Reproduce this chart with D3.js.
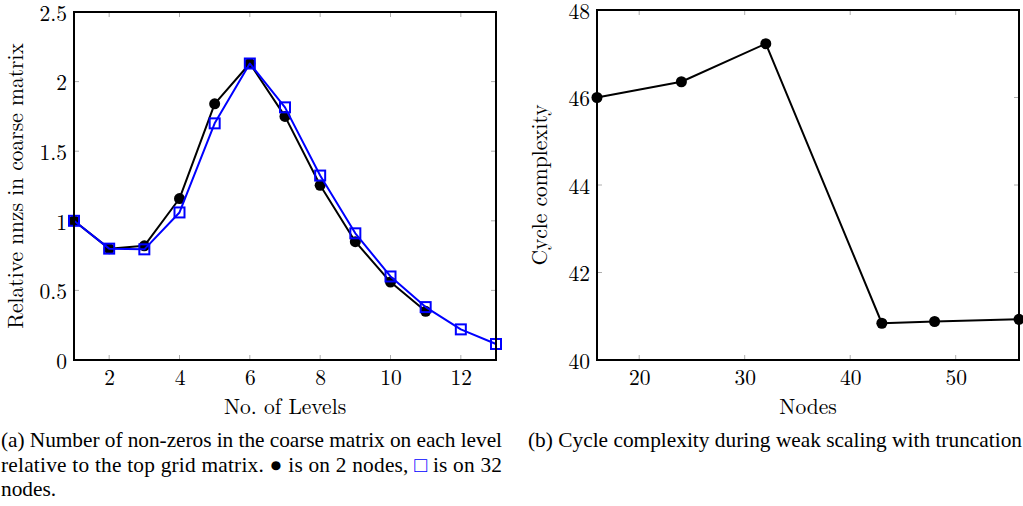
<!DOCTYPE html>
<html><head><meta charset="utf-8">
<script src="https://cdn.jsdelivr.net/npm/d3@7"></script>
<style>body{margin:0;background:#fff}svg{display:block}</style>
</head><body><svg id="c" width="1023" height="506"></svg>
<script>
const levels2 = [1,2,3,4,5,6,7,8,9,10,11];
const nnz2 = [1.0,0.80,0.82,1.16,1.84,2.13,1.75,1.255,0.85,0.56,0.35];
const levels32 = [1,2,3,4,5,6,7,8,9,10,11,12,13];
const nnz32 = [1.0,0.80,0.795,1.06,1.70,2.13,1.815,1.325,0.91,0.60,0.38,0.22,0.115];
const levelTicks = [2,4,6,8,10,12];
const nnzTicks = [0,0.5,1,1.5,2,2.5];
const nodes = [16,24,32,43,48,56];
const complexity = [46.0,46.36,47.23,40.84,40.88,40.93];
const nodeTicks = [20,30,40,50];
const complexityTicks = [40,42,44,46,48];

const LM = '"Latin Modern Roman", "Liberation Serif", serif';
const TM = '"Liberation Serif", "Times New Roman", serif';
const FS = "21.5px";
const svg = d3.select("#c");
const fmt = d => String(d);

function panel(o){
  const g = svg.append("g");
  const x = d3.scaleLinear().domain(o.xd).range([o.x0,o.x1]);
  const y = d3.scaleLinear().domain(o.yd).range([o.y1,o.y0]);
  const tl = 5;
  const tg = g.append("g").attr("stroke","#999").attr("stroke-width",0.8);
  o.xt.forEach(t=>{
    tg.append("line").attr("x1",x(t)).attr("x2",x(t)).attr("y1",o.y1).attr("y2",o.y1-tl);
    tg.append("line").attr("x1",x(t)).attr("x2",x(t)).attr("y1",o.y0).attr("y2",o.y0+tl);
  });
  o.yt.forEach(t=>{
    tg.append("line").attr("y1",y(t)).attr("y2",y(t)).attr("x1",o.x0).attr("x2",o.x0+tl);
    tg.append("line").attr("y1",y(t)).attr("y2",y(t)).attr("x1",o.x1).attr("x2",o.x1-tl);
  });
  const xa = d3.axisBottom(x).tickValues(o.xt).tickSize(0).tickPadding(10).tickFormat(fmt);
  const ya = d3.axisLeft(y).tickValues(o.yt).tickSize(0).tickPadding(7).tickFormat(fmt);
  const gx = g.append("g").attr("transform",`translate(0,${o.y1})`).call(xa);
  const gy = g.append("g").attr("transform",`translate(${o.x0},0)`).call(ya);
  [gx,gy].forEach(a=>{a.attr("font-family",null).attr("font-size",null);a.select(".domain").remove();a.selectAll("text").style("font-size",FS).attr("fill","#000").style("font-family",LM);});
  gy.selectAll("text").attr("dy","0.39em");
  g.append("text").attr("x",(o.x0+o.x1)/2).attr("y",o.y1+54).attr("text-anchor","middle").style("font-size",FS).style("font-family",LM).text(o.xl);
  g.append("text").attr("transform",`translate(${o.ylx},${(o.y0+o.y1)/2}) rotate(-90)`).attr("text-anchor","middle").style("font-size",FS).style("font-family",LM).text(o.yl);
  o.series.forEach(s=>{
    const pts = s.xs.map((v,i)=>[x(v),y(s.ys[i])]);
    g.append("path").attr("d",d3.line()(pts)).attr("fill","none").attr("stroke",s.color).attr("stroke-width",2).attr("stroke-linejoin","round");
    pts.forEach(p=>{
      if(s.marker==="circle") g.append("circle").attr("cx",p[0]).attr("cy",p[1]).attr("r",5.5).attr("fill",s.color);
      else g.append("rect").attr("x",p[0]-5).attr("y",p[1]-5).attr("width",10).attr("height",10).attr("fill","none").attr("stroke",s.color).attr("stroke-width",2);
    });
  });
  g.append("rect").attr("x",o.x0).attr("y",o.y0).attr("width",o.x1-o.x0).attr("height",o.y1-o.y0).attr("fill","none").attr("stroke","#000").attr("stroke-width",2);
}

panel({x0:74,x1:496,y0:12,y1:360,xd:[1,13],yd:[0,2.5],xt:levelTicks,yt:nnzTicks,
  xl:"No. of Levels",yl:"Relative nnzs in coarse matrix",ylx:23,
  series:[{xs:levels2,ys:nnz2,color:"#000",marker:"circle"},{xs:levels32,ys:nnz32,color:"#0000ff",marker:"square"}]});
panel({x0:597,x1:1019,y0:10,y1:360,xd:[16,56],yd:[40,48],xt:nodeTicks,yt:complexityTicks,
  xl:"Nodes",yl:"Cycle complexity",ylx:547,
  series:[{xs:nodes,ys:complexity,color:"#000",marker:"circle"}]});

// captions
const cap = svg.append("g").attr("fill","#000");
const tb = cap.append("text").attr("x",528).attr("y",447).style("font-family",TM).style("font-size","18px").text("(b) Cycle complexity during weak scaling with truncation");
const natural = tb.node().getComputedTextLength();
const fs = Math.max(15, Math.min(22, 18*494/natural));
tb.style("font-size",fs+"px").attr("textLength",494).attr("lengthAdjust","spacing");
cap.append("text").attr("x",1).attr("y",447).style("font-family",TM).style("font-size",fs+"px").attr("textLength",501).attr("lengthAdjust","spacing").text("(a) Number of non-zeros in the coarse matrix on each level");
const t2 = cap.append("text").attr("x",1).attr("y",472).style("font-family",TM).style("font-size",fs+"px").attr("textLength",501).attr("lengthAdjust","spacing");
t2.append("tspan").text("relative to the top grid matrix. ");
t2.append("tspan").text("●");
t2.append("tspan").text(" is on 2 nodes, ");
t2.append("tspan").attr("fill","#0000ff").text("□");
t2.append("tspan").text(" is on 32");
cap.append("text").attr("x",1).attr("y",496).style("font-family",TM).style("font-size",fs+"px").text("nodes.");
</script></body></html>
